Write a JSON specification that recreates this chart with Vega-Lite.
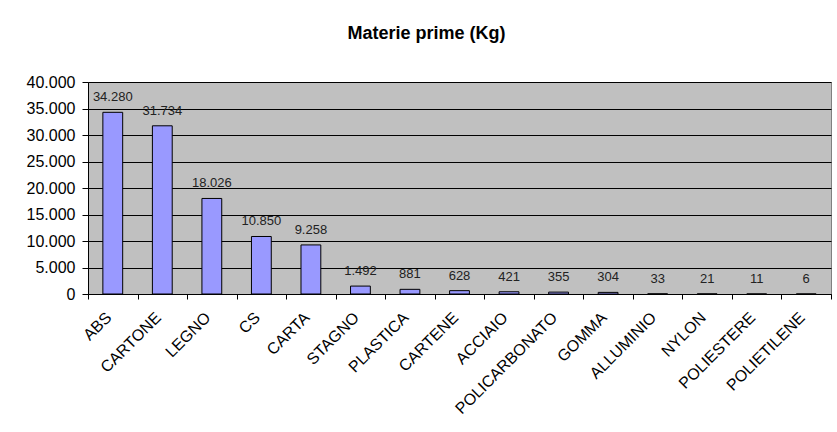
{
  "$schema": "https://vega.github.io/schema/vega-lite/v6.json",
  "autosize": {"type": "none"},
  "width": 743,
  "height": 212,
  "padding": {"left": 88, "top": 82, "right": 6, "bottom": 138},
  "background": "white",
  "title": {
    "text": "Materie prime (Kg)",
    "font": "Liberation Sans",
    "fontSize": 18,
    "fontWeight": "bold",
    "color": "black",
    "anchor": "middle",
    "dx": -33,
    "offset": 31
  },
  "data": {
    "values": [
      {"materiale": "ABS", "kg": 34280},
      {"materiale": "CARTONE", "kg": 31734},
      {"materiale": "LEGNO", "kg": 18026},
      {"materiale": "CS", "kg": 10850},
      {"materiale": "CARTA", "kg": 9258},
      {"materiale": "STAGNO", "kg": 1492},
      {"materiale": "PLASTICA", "kg": 881},
      {"materiale": "CARTENE", "kg": 628},
      {"materiale": "ACCIAIO", "kg": 421},
      {"materiale": "POLICARBONATO", "kg": 355},
      {"materiale": "GOMMA", "kg": 304},
      {"materiale": "ALLUMINIO", "kg": 33},
      {"materiale": "NYLON", "kg": 21},
      {"materiale": "POLIESTERE", "kg": 11},
      {"materiale": "POLIETILENE", "kg": 6}
    ]
  },
  "encoding": {
    "x": {
      "field": "materiale",
      "type": "nominal",
      "sort": null,
      "scale": {"paddingInner": 0, "paddingOuter": 0},
      "axis": {
        "title": null,
        "labelAngle": -45,
        "labelFontSize": 16,
        "labelPadding": 10,
        "labelOffset": -10,
        "ticks": true,
        "tickBand": "extent",
        "tickSize": 5,
        "tickColor": "black",
        "tickWidth": 1,
        "domainColor": "black"
      }
    },
    "y": {
      "field": "kg",
      "type": "quantitative",
      "scale": {"domain": [0, 40000], "nice": false},
      "axis": {
        "title": null,
        "values": [0, 5000, 10000, 15000, 20000, 25000, 30000, 35000, 40000],
        "format": ",d",
        "labelFontSize": 16,
        "labelPadding": 7,
        "ticks": true,
        "tickSize": 6,
        "tickColor": "black",
        "tickWidth": 1,
        "domainColor": "black",
        "grid": true,
        "gridColor": "black",
        "gridOpacity": 1
      }
    }
  },
  "layer": [
    {
      "mark": {"type": "bar", "width": {"band": 0.4}, "fill": "#9999FF", "stroke": "black", "strokeWidth": 1}
    },
    {
      "mark": {
        "type": "text",
        "baseline": "alphabetic",
        "dy": -11,
        "fontSize": 13,
        "color": "#222222",
        "font": "Liberation Sans"
      },
      "encoding": {
        "text": {"field": "kg", "type": "quantitative", "format": ",d"}
      }
    }
  ],
  "config": {
    "locale": {
      "number": {"decimal": ",", "thousands": ".", "grouping": [3], "currency": ["€", ""]}
    },
    "font": "Liberation Sans",
    "view": {"fill": "#C0C0C0", "stroke": "#808080"},
    "axis": {"labelFont": "Liberation Sans", "labelColor": "black", "domainWidth": 1}
  }
}
